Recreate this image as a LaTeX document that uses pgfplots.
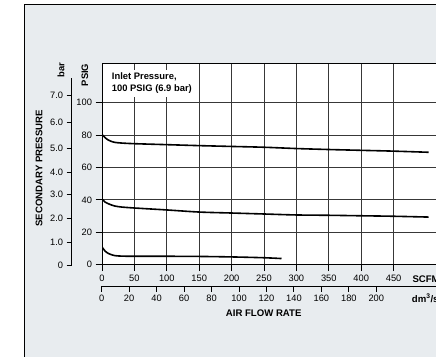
\documentclass[border=0pt]{standalone}
\usepackage{pgfplots}
\pgfplotsset{compat=1.18}
\usepackage{fontspec}
\setmainfont{Liberation Sans}
\definecolor{panel}{RGB}{232,236,239}

\pgfplotsset{
  common/.style={
    scale only axis,
    tick align=outside,
    axis line style={black, line width=1pt},
    tick style={black, line width=0.9pt},
    ticklabel style={font=\fontsize{9.3}{11}\selectfont},
    /pgf/number format/assume math mode=true,
  },
}

\begin{document}
\begin{tikzpicture}[x=1pt,y=1pt]
\useasboundingbox (0,0) rectangle (436,356);
\clip (0,0) rectangle (436,356);
\fill[white] (0,0) rectangle (436,356);
\filldraw[fill=panel, draw=black, line width=1.5pt] (24.5,-20) rectangle (470,351.5);

% main chart: PSIG vs SCFM
\begin{axis}[common,
  at={(102pt,91.3pt)}, anchor=south west,
  x=0.648pt, y=1.62pt,
  xmin=0, xmax=560, ymin=0, ymax=123.9,
  axis background/.style={fill=white},
  grid=major, grid style={black!78, line width=1pt},
  xtick={0,50,...,450}, ytick={0,20,...,100},
  xtick pos=bottom, ytick pos=left,
  major tick length=6.5pt,
]
\addplot[black, line width=1.6pt, smooth] coordinates {
  (0,80.4) (2,79.6) (5,78.3) (10,76.9) (15,76.0) (20,75.5) (30,75.1) (50,74.7)
  (100,74.1) (150,73.5) (200,73.0) (250,72.5) (300,71.7) (350,71.1)
  (400,70.6) (450,70.1) (504,69.4)
};
\addplot[black, line width=1.6pt, smooth] coordinates {
  (0,40.6) (2,39.7) (5,38.6) (10,37.6) (15,36.8) (20,36.2) (30,35.6) (50,35.0)
  (100,33.8) (150,32.5) (200,31.9) (250,31.3) (300,30.7) (350,30.5)
  (400,30.2) (450,29.9) (504,29.4)
};
\addplot[black, line width=1.6pt, smooth] coordinates {
  (0,11.1) (2,9.8) (5,8.3) (10,6.9) (15,6.1) (20,5.6) (30,5.3) (50,5.2)
  (100,5.2) (150,5.1) (200,4.8) (250,4.3) (277,3.8)
};
\end{axis}

% bar scale
\begin{axis}[common,
  at={(71.7pt,90.3pt)}, anchor=south west,
  width=10pt, height=187.7pt,
  xmin=0, xmax=1, ymin=0, ymax=187.7,
  axis x line=none, axis y line*=left,
  ytick={0,23.7,47.4,71.4,93.4,117.4,143.4,170},
  yticklabels={0,1.0,2.0,3.0,4.0,5.0,6.0,7.0},
  major tick length=5pt,
]
\end{axis}

% dm3/s scale
\begin{axis}[common,
  at={(101.7pt,70pt)}, anchor=south west,
  x=1.3731pt, height=10pt,
  xmin=0, xmax=300, ymin=0, ymax=1,
  axis y line=none, axis x line*=bottom,
  xtick={0,20,...,200},
  major tick length=5.7pt,
]
\end{axis}

% inlet note
\fill[white] (106,259) rectangle (195,286);
\node[anchor=base west, inner sep=0pt, font=\bfseries\fontsize{9.4}{11}\selectfont] at (111.7,276.7) {Inlet Pressure,};
\node[anchor=base west, inner sep=0pt, font=\bfseries\fontsize{9.4}{11}\selectfont] at (111.7,264.3) {100 PSIG (6.9 bar)};

% axis titles
\node[rotate=90, inner sep=0pt, font=\bfseries\fontsize{9.6}{11}\selectfont] at (39,187.7) {SECONDARY PRESSURE};
\node[rotate=90, inner sep=0pt, font=\bfseries\fontsize{9.4}{11}\selectfont] at (61,286) {bar};
\node[rotate=90, inner sep=0pt, font=\bfseries\fontsize{9.4}{11}\selectfont] at (85,281) {PSIG};
\node[anchor=west, inner sep=0pt, font=\bfseries\fontsize{9.6}{11}\selectfont] at (412.3,77.3) {SCFM};
\node[anchor=west, inner sep=0pt, font=\bfseries\fontsize{9.6}{11}\selectfont] at (411.7,57.7) {dm\textsuperscript{3}/s};
\node[inner sep=0pt, font=\bfseries\fontsize{9.6}{11}\selectfont] at (263.7,43.3) {AIR FLOW RATE};
\end{tikzpicture}
\end{document}
